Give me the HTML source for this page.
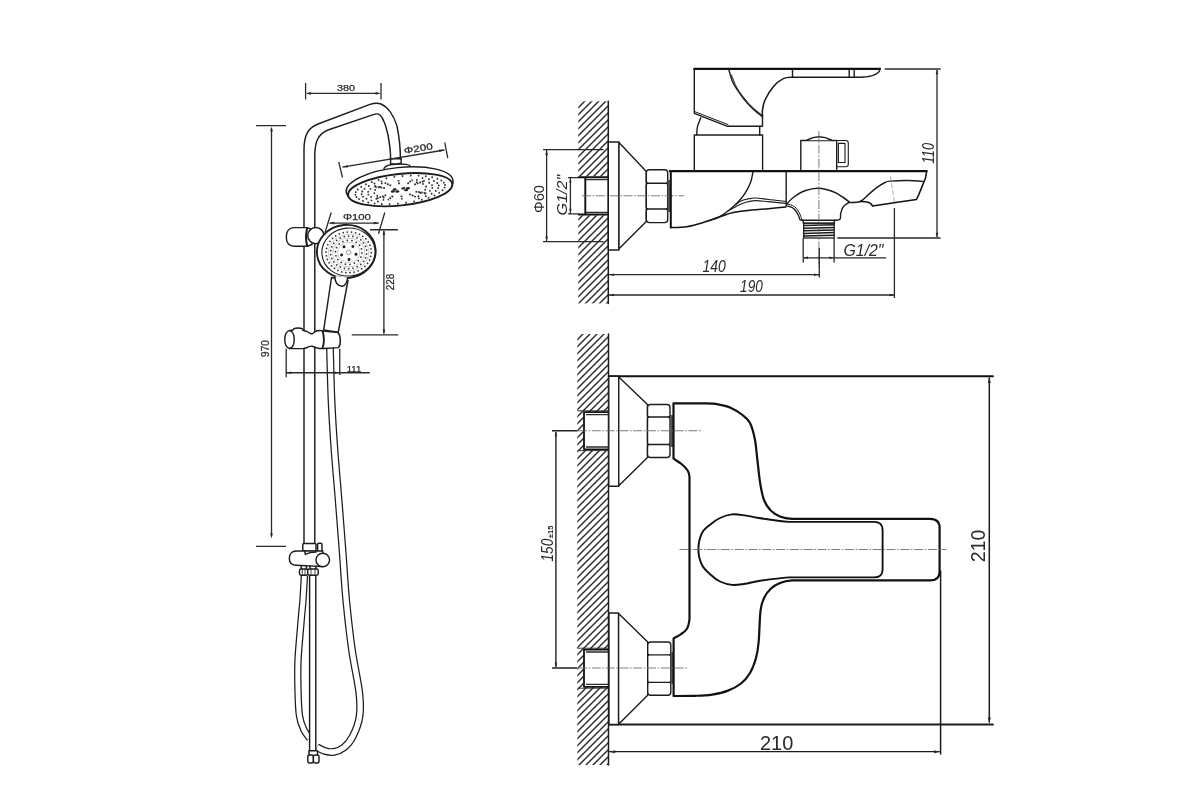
<!DOCTYPE html>
<html><head><meta charset="utf-8">
<style>
html,body{margin:0;padding:0;background:#fff;}
body{width:1200px;height:800px;overflow:hidden;font-family:"Liberation Sans",sans-serif;}
svg{display:block;will-change:transform;}
text{font-family:"Liberation Sans",sans-serif;fill:#2a2a2a;}
#shower text{stroke:#2a2a2a;stroke-width:0.25;}
#shower .k,#shower .kw{stroke-width:1.45;}
.k{stroke:#1c1c1c;fill:none;stroke-width:1.4;stroke-linecap:round;stroke-linejoin:round;}
.kw{stroke:#1c1c1c;fill:#fff;stroke-width:1.4;stroke-linejoin:round;}
.t{stroke:#2a2a2a;fill:none;stroke-width:1.3;}
.b{stroke:#111;fill:none;stroke-width:2;stroke-linejoin:round;stroke-linecap:round;}
.bw{stroke:#111;fill:#fff;stroke-width:2;stroke-linejoin:round;}
.c{stroke:#666;fill:none;stroke-width:0.85;stroke-dasharray:9 1.6 1.6 1.6;}
.ar{fill:#2a2a2a;stroke:none;}
</style></head><body>
<svg width="1200" height="800" viewBox="0 0 1200 800">
<defs>
<pattern id="h" width="7" height="7" patternUnits="userSpaceOnUse">
<path d="M-1,8 L8,-1 M-1,1 L1,-1 M6,8 L8,6" stroke="#262626" stroke-width="1.4" fill="none"/>
</pattern>
</defs>
<rect width="1200" height="800" fill="#fff"/>
<!--SHOWER-->
<g id="shower">
<!-- 380 dim -->
<path class="t" d="M305.6,83V99.6M381,83V99.6M307,93.4H379.5"/>
<path class="ar" d="M306,93.4l5,-1.3v2.6zM380.6,93.4l-5,-1.3v2.6z"/>
<text x="346" y="91.4" font-size="9.4" text-anchor="middle" textLength="18" lengthAdjust="spacingAndGlyphs">380</text>
<!-- 970 dim -->
<path class="t" d="M256,125.6H286M256,546.4H286M271.5,128V536"/>
<path class="ar" d="M271.5,126.5l-1.3,5h2.6zM271.5,538.5l-1.3,-5h2.6z"/>
<text transform="translate(269,348.6) rotate(-90)" font-size="10.2" text-anchor="middle" textLength="16.6" lengthAdjust="spacingAndGlyphs">970</text>
<!-- hose big (from handle down, loop) -->
<path d="M330.0,348.0C330.2,356.7 330.8,383.0 331.5,400.0C332.2,417.0 333.3,433.3 334.5,450.0C335.7,466.7 337.3,483.3 338.6,500.0C339.9,516.7 341.2,533.3 342.5,550.0C343.8,566.7 344.6,583.3 346.2,600.0C347.8,616.7 349.8,634.7 352.0,650.0C354.2,665.3 357.9,681.0 359.2,692.0C360.5,703.0 360.6,708.7 359.6,716.0C358.6,723.3 355.6,730.8 353.0,736.0C350.4,741.2 347.2,744.9 344.0,747.5C340.8,750.1 337.2,751.2 334.0,751.8C330.8,752.4 327.8,751.8 325.0,751.0C322.2,750.2 318.3,747.9 317.0,747.3" fill="none" stroke="#1c1c1c" stroke-width="7.8"/>
<path d="M330.0,348.0C330.2,356.7 330.8,383.0 331.5,400.0C332.2,417.0 333.3,433.3 334.5,450.0C335.7,466.7 337.3,483.3 338.6,500.0C339.9,516.7 341.2,533.3 342.5,550.0C343.8,566.7 344.6,583.3 346.2,600.0C347.8,616.7 349.8,634.7 352.0,650.0C354.2,665.3 357.9,681.0 359.2,692.0C360.5,703.0 360.6,708.7 359.6,716.0C358.6,723.3 355.6,730.8 353.0,736.0C350.4,741.2 347.2,744.9 344.0,747.5C340.8,750.1 337.2,751.2 334.0,751.8C330.8,752.4 327.8,751.8 325.0,751.0C322.2,750.2 318.3,747.9 317.0,747.3" fill="none" stroke="#fff" stroke-width="5.3"/>
<!-- left hose from diverter -->
<path d="M304.4,575.8C304.2,579.8 303.5,592.6 303.0,600.0C302.5,607.4 302.0,609.9 301.2,620.0C300.4,630.1 298.5,649.0 298.0,660.7C297.5,672.4 297.8,680.8 298.0,690.0C298.2,699.2 298.5,709.3 299.5,716.0C300.5,722.7 302.2,726.2 304.0,730.0C305.8,733.8 309.0,737.1 310.0,738.5" fill="none" stroke="#1c1c1c" stroke-width="7.4"/>
<path d="M304.4,575.8C304.2,579.8 303.5,592.6 303.0,600.0C302.5,607.4 302.0,609.9 301.2,620.0C300.4,630.1 298.5,649.0 298.0,660.7C297.5,672.4 297.8,680.8 298.0,690.0C298.2,699.2 298.5,709.3 299.5,716.0C300.5,722.7 302.2,726.2 304.0,730.0C305.8,733.8 309.0,737.1 310.0,738.5" fill="none" stroke="#fff" stroke-width="4.9"/>
<!-- rigid tube -->
<rect x="309.6" y="575" width="6.2" height="175.7" fill="#fff" stroke="none"/>
<path class="k" d="M309.6,575.75V750.7M315.8,575.75V750.7M309.6,750.7H315.8"/>
<rect class="kw" x="307.8" y="755" width="5.6" height="8" rx="1.8"/>
<rect class="kw" x="313.4" y="755" width="5.6" height="8" rx="1.8"/>
<path class="k" d="M309,750.7V755M317.5,750.7V755"/>
<!-- main pipe -->
<path class="k" d="M304,543.5 L304,150 C304,135 308,128 318,124 L370,104.4 C374,103 378,102.8 381,104 C388,107 394,116 397,126 C399,136 400.4,146 400.4,158.75"/>
<path class="k" d="M314.8,543.5 L314.8,154 C315.1,142 318,134 328,130 L374,114.4 C376,113.6 378,113.6 380,115 C384,119 386,126 388,135 C390,146 390.6,150 390.6,158.75"/>
<!-- head neck -->
<path class="k" d="M390.3,158.75H401.2M390.6,158.75V163.8M401.2,158.75V163M390.6,163.8Q396,165 401.2,163"/>
<path class="kw" d="M383.75,169 Q385,165.5 392,164.5 Q400,163.5 406,164.4 Q410,165 410.3,166.4"/>
<!-- head -->
<g transform="rotate(-6 399.6 186)">
<ellipse class="kw" cx="399.6" cy="186.3" rx="53.7" ry="18.8"/>
<ellipse class="kw" cx="399.8" cy="189.7" rx="52.4" ry="15.8" style="stroke-width:1.9"/>
<g id="hh"><ellipse cx="394.3" cy="189.0" rx="2.1" ry="1.2" fill="#222"/><ellipse cx="396.8" cy="191.2" rx="2.1" ry="1.2" fill="#222"/><ellipse cx="403.0" cy="188.7" rx="2.1" ry="1.2" fill="#222"/><ellipse cx="405.6" cy="190.8" rx="2.1" ry="1.2" fill="#222"/><ellipse cx="392.3" cy="190.8" rx="2.1" ry="1.2" fill="#222"/><ellipse cx="407.6" cy="189.1" rx="2.1" ry="1.2" fill="#222"/><path d="M414.8,193.3L425.7,195.8M408.4,195.0L414.6,198.6M400.3,195.6L400.6,199.7M392.0,195.1L386.4,198.8M385.3,193.6L374.9,196.2M384.8,186.5L373.9,184.0M391.2,184.8L385.0,181.2M399.3,184.2L399.0,180.1M407.6,184.7L413.2,181.0M414.3,186.2L424.7,183.6" stroke="#333" stroke-width="1.8" stroke-dasharray="1.8 0.9" fill="none"/><path d="M382.6,195.9h0M376.4,193.4h0M373.7,190.5h0M374.9,187.4h0M380.0,184.7h0M417.0,183.9h0M423.2,186.4h0M425.9,189.3h0M424.7,192.4h0M419.6,195.1h0M382.1,198.1h0M375.2,196.3h0M370.2,193.9h0M367.6,191.3h0M367.7,188.5h0M370.3,185.8h0M375.3,183.5h0M382.3,181.6h0M417.5,181.7h0M424.4,183.5h0M429.4,185.9h0M432.0,188.5h0M431.9,191.3h0M429.3,194.0h0M424.3,196.3h0M417.3,198.2h0M376.4,199.2h0M370.1,197.4h0M365.3,195.2h0M362.2,192.8h0M361.0,190.2h0M361.8,187.6h0M364.5,185.1h0M368.9,182.8h0M374.9,180.9h0M382.1,179.5h0M423.2,180.6h0M429.5,182.4h0M434.3,184.6h0M437.4,187.0h0M438.6,189.6h0M437.8,192.2h0M435.1,194.7h0M430.7,197.0h0M424.7,198.9h0M417.5,200.3h0M361.7,197.1h0M357.9,194.9h0M355.6,192.5h0M354.7,190.0h0M355.4,187.5h0M357.7,185.1h0M361.3,182.8h0M366.3,180.8h0M372.4,179.1h0M379.4,177.8h0M387.2,176.9h0M395.3,176.4h0M403.6,176.4h0M411.8,176.8h0M419.6,177.7h0M426.7,179.0h0M432.9,180.7h0M437.9,182.7h0M441.7,184.9h0M444.0,187.3h0M444.9,189.8h0M444.2,192.3h0M441.9,194.7h0M438.3,197.0h0M433.3,199.0h0M427.2,200.7h0M420.2,202.0h0M412.4,202.9h0M404.3,203.4h0M396.0,203.4h0M387.8,203.0h0M380.0,202.1h0M372.9,200.8h0M366.7,199.1h0" stroke="#333" stroke-width="1.9" stroke-linecap="round" fill="none"/></g>
</g>
<!-- phi200 -->
<path class="t" d="M338.75,161.9L342.5,177.5M444.75,142.5L447.75,158.1M342.5,167.1L444.4,150"/>
<path class="ar" d="M342.5,167.1l5.1,-2.1l0.4,2.6zM444.4,150l-5.1,2.1l-0.4,-2.6z"/>
<text transform="translate(418.9,151.6) rotate(-9.5)" font-size="9.2" text-anchor="middle" textLength="29" lengthAdjust="spacingAndGlyphs">Φ200</text>
<!-- slider bracket -->
<path class="kw" d="M307,227.6 H294 C289,227.6 286.3,231.5 286.3,237 C286.3,242.5 289,246.3 294,246.3 H307 L312,244.5 L312,229.4 Z"/>
<path class="k" d="M307.2,228 Q304.8,237 307.2,246" style="stroke-width:2"/>
<circle class="kw" cx="315.8" cy="235.6" r="8.1"/>
<!-- hand shower handle -->
<path class="kw" d="M331.5,277.5 L323.7,330 L338.25,332.25 L348,280.5 Z"/>
<!-- hand head -->
<g transform="rotate(-5 346.5 251.5)">
<ellipse class="kw" cx="346.3" cy="251.5" rx="29.4" ry="26.6" style="stroke-width:1.8"/>
<ellipse class="kw" cx="348.4" cy="252.2" rx="26.6" ry="24" style="stroke-width:1.1"/>
<g id="hs"><circle cx="348.6" cy="252.6" r="2.3" fill="#fff" stroke="#888" stroke-width="0.8"/><circle cx="353.3" cy="247.0" r="1.5" fill="#222"/><circle cx="355.7" cy="255.1" r="1.5" fill="#222"/><circle cx="348.3" cy="259.8" r="1.5" fill="#222"/><circle cx="341.3" cy="254.5" r="1.5" fill="#222"/><circle cx="344.4" cy="246.6" r="1.5" fill="#222"/><ellipse cx="348.6" cy="252.6" rx="11.2" ry="10.1" fill="none" stroke="#aaa" stroke-width="0.6"/><ellipse cx="348.6" cy="252.6" rx="16.0" ry="14.4" fill="none" stroke="#aaa" stroke-width="0.6"/><ellipse cx="348.6" cy="252.6" rx="20.2" ry="18.2" fill="none" stroke="#aaa" stroke-width="0.6"/><path d="M360.3,258.4h0M357.4,261.6h0M353.4,263.8h0M348.9,264.6h0M344.3,264.0h0M340.3,262.0h0M337.2,258.8h0M335.6,255.0h0M335.5,250.8h0M336.9,246.8h0M339.8,243.6h0M343.8,241.4h0M348.3,240.6h0M352.9,241.2h0M356.9,243.2h0M360.0,246.4h0M361.6,250.2h0M361.7,254.4h0M362.7,262.9h0M359.5,265.6h0M355.8,267.6h0M351.6,268.7h0M347.2,268.9h0M343.0,268.1h0M339.0,266.4h0M335.6,264.0h0M333.0,260.8h0M331.3,257.2h0M330.5,253.3h0M330.9,249.4h0M332.2,245.7h0M334.5,242.3h0M337.7,239.6h0M341.4,237.6h0M345.6,236.5h0M350.0,236.3h0M354.2,237.1h0M358.2,238.8h0M361.6,241.2h0M364.2,244.4h0M365.9,248.0h0M366.7,251.9h0M366.3,255.8h0M365.0,259.5h0M363.5,267.9h0M360.1,270.1h0M356.4,271.8h0M352.3,272.7h0M348.2,273.0h0M344.0,272.6h0M340.0,271.5h0M336.3,269.7h0M333.1,267.4h0M330.3,264.6h0M328.2,261.4h0M326.7,257.8h0M326.1,254.1h0M326.1,250.3h0M327.0,246.7h0M328.5,243.2h0M330.8,240.0h0M333.7,237.3h0M337.1,235.1h0M340.8,233.4h0M344.9,232.5h0M349.0,232.2h0M353.2,232.6h0M357.2,233.7h0M360.9,235.5h0M364.1,237.8h0M366.9,240.6h0M369.0,243.8h0M370.5,247.4h0M371.1,251.1h0M371.1,254.9h0M370.2,258.5h0M368.7,262.0h0M366.4,265.2h0" stroke="#333" stroke-width="1.8" stroke-linecap="round" fill="none"/></g>
</g>
<path class="kw" d="M334.8,276 C335,282 337.5,286 342,286.3 C345.5,286 347,283 347.6,277.5" style="fill:#fff"/>
<!-- phi100 -->
<path class="t" d="M331.25,212.5L325,232.5M384.75,212.5L378.5,233.75M329.4,223.1H378.75"/>
<path class="ar" d="M329.4,223.1l5,-1.3v2.6zM378.75,223.1l-5,-1.3v2.6z"/>
<text x="356.9" y="220.2" font-size="9.2" text-anchor="middle" textLength="28" lengthAdjust="spacingAndGlyphs">Φ100</text>
<!-- 228 -->
<path class="t" d="M370,229.75H398M351.75,334.8H398.25M383.9,231V333.5"/>
<path class="ar" d="M383.9,230l-1.3,5h2.6zM383.9,334.5l-1.3,-5h2.6z"/>
<text transform="translate(394.4,282) rotate(-90)" font-size="10.4" text-anchor="middle" textLength="16.4" lengthAdjust="spacingAndGlyphs">228</text>
<!-- lower holder -->
<path class="kw" d="M289.5,330.6C290.1,330.5 292.2,330.3 293.0,330.0C293.8,329.7 293.2,328.9 294.0,328.6C294.8,328.3 296.7,328.0 298.0,328.0C299.3,328.0 301.2,328.2 302.0,328.6C302.8,329.0 302.2,329.9 303.0,330.4C303.8,330.9 305.8,331.1 307.0,331.6C308.2,332.1 309.1,332.8 310.0,333.2C310.9,333.6 311.6,334.0 312.4,333.8C313.2,333.6 313.8,332.5 314.6,332.0C315.4,331.5 316.1,331.1 317.0,330.8C317.9,330.5 319.0,330.4 320.0,330.4C321.0,330.4 322.5,330.9 323.0,331.0L338,332.6C341,336 341,344.5 338.5,347.6L323.4,348.5C322.8,348.5 321.2,348.6 320.0,348.5C318.8,348.4 317.3,348.0 316.0,347.6C314.7,347.2 313.2,346.4 312.0,346.2C310.8,346.0 309.9,346.3 309.0,346.6C308.1,346.9 307.5,347.5 306.5,347.8C305.5,348.1 304.8,348.5 303.0,348.6C301.2,348.7 298.2,348.6 296.0,348.6C293.8,348.6 290.6,348.5 289.5,348.5C283.2,347 283.2,332 289.5,330.6Z"/>
<path class="k" d="M289.5,330.6C295.8,332 295.8,347 289.5,348.5"/>
<path class="k" d="M322.6,331 Q325.2,339.5 322.6,348.2" style="stroke-width:1.9"/>
<!-- 111 -->
<path class="t" d="M286.2,348.75V377.25M339.75,348.75V375M286.2,372.75H369.75"/>
<path class="ar" d="M286.4,372.75l5,-1.3v2.6zM339.6,372.75l-5,-1.3v2.6z"/>
<text x="354" y="371.6" font-size="9.4" text-anchor="middle" textLength="14.4" lengthAdjust="spacingAndGlyphs">111</text>
<!-- diverter -->
<rect class="kw" x="302.8" y="543.5" width="13.2" height="7.6" rx="1"/>
<rect class="kw" x="317.6" y="543.2" width="4.4" height="9.4" rx="1.2"/>
<path class="kw" d="M296.5,551 H322.75 V566.6 L296.5,565.2 C291.5,565.2 289.3,562 289.3,558.2 C289.3,554.4 291.5,551 296.5,551 Z"/>
<path class="k" d="M304.6,551 L305.4,554.4 L310,552.6 L316,552"/>
<circle class="kw" cx="322.75" cy="560" r="6.8"/>
<path class="k" d="M301.2,565.6V569M306.4,565.8V569M310,566V569M316,566.3V569"/>
<rect class="kw" x="299.5" y="569" width="8.25" height="6.2" rx="1.6"/>
<rect class="kw" x="307.75" y="569" width="10.5" height="6.2" rx="1.6"/>
<path class="k" d="M302.3,569V575.2M305,569V575.2M311,569V575.2M315,569V575.2" style="stroke-width:0.8"/>
</g>
<!--SIDE-->
<g id="side">
<!-- wall -->
<rect x="578.3" y="101.3" width="30" height="202.1" fill="url(#h)"/>
<rect x="577" y="176.4" width="31.3" height="39" fill="#fff"/>
<path class="t" d="M568,177.6H579M568,213.8H579M570.4,178V213.4"/>
<path class="t" d="M543,149.7H603.6M543,241.6H603.6M546.6,150V241.4"/>
<path class="ar" d="M546.6,150l-1.3,5h2.6zM546.6,241.4l-1.3,-5h2.6zM570.4,178.2l-1.2,4.4h2.4zM570.4,213.2l-1.2,-4.4h2.4z"/>
<path class="k" d="M608.3,101.3V303.4" style="stroke-width:1.5"/>
<path class="b" d="M578.8,177.3H608.3M578.8,214.5H608.3M585.3,178V214" style="stroke-width:1.9"/>
<path class="t" d="M586,179.6H608M586,212.3H608"/>
<!-- flange -->
<path class="kw" d="M608.3,142H619V250H608.3Z"/>
<path class="kw" d="M619,142.6L646.3,171.6V221.4L619,248.7Z"/>
<!-- nut -->
<path class="kw" d="M649.3,169.7H664.7Q667.7,169.7 667.7,172.7V180.5Q667.7,183.2 666.5,183.2Q667.7,183.4 667.7,185.5V206.7Q667.7,208.8 666.5,209Q667.7,209.2 667.7,211.7V219.6Q667.7,222.6 664.7,222.6H649.3Q646.3,222.6 646.3,219.6V211.7Q646.3,209.2 647.5,209Q646.3,208.8 646.3,206.7V185.5Q646.3,183.4 647.5,183.2Q646.3,183.2 646.3,180.5V172.7Q646.3,169.7 649.3,169.7Z"/>
<path class="k" d="M647,183.2H667M647,209H667" style="stroke-width:1.4"/>
<rect x="667.7" y="180" width="3" height="32" fill="#555"/>
<path class="c" d="M582,195.8H684"/>
<!-- cartridge + handle -->
<path class="kw" d="M694.3,135H762.6V171H694.3Z"/>
<path class="k" d="M696.7,134.6C696.8,133.3 696.8,129.5 697.5,126.7C698.2,123.9 700.2,119.3 700.8,117.8M759.7,126.3V135"/>
<path class="kw" d="M694.3,68.8V113.3L727.5,126.3H762.5V116.7" style="fill:none"/>
<path class="k" d="M694.6,111.6L728,124.6" style="stroke-width:1"/>
<path class="k" d="M728.7,69.2C729.5,71.5 730.9,78.5 733.3,83.3C735.7,88.1 740.2,94.2 743.3,98.3C746.4,102.4 748.8,104.9 752.0,108.0C755.2,111.1 760.8,115.2 762.5,116.7"/>
<path class="k" d="M731.5,75.0C732.4,77.2 734.6,83.8 737.0,88.0C739.4,92.2 743.2,96.9 746.0,100.3C748.8,103.7 751.3,106.1 754.0,108.6C756.7,111.1 760.9,114.3 762.3,115.4" style="stroke-width:1"/>
<path class="k" d="M792.5,77.2C791.0,77.4 786.5,77.0 783.3,78.6C780.1,80.2 776.3,83.1 773.3,86.7C770.2,90.3 766.8,96.1 765.0,100.0C763.2,103.9 762.9,107.2 762.5,110.0C762.1,112.8 762.5,115.6 762.5,116.7" style="stroke-width:1.6"/>
<path class="k" d="M792.5,77.2H861.7C863.4,77.0 868.9,76.6 871.7,75.8C874.5,75.0 876.9,73.7 878.3,72.5C879.7,71.3 879.7,69.5 880.0,68.9"/>
<path class="k" d="M792.5,69V77.2M849.2,69V77.2M854.2,69V77.2"/>
<path class="b" d="M694.2,68.8H880" style="stroke-width:2.2"/>
<!-- diverter knob -->
<path class="kw" d="M800.8,140.5H836.7V171H800.8Z"/>
<path class="kw" d="M806.7,140.3Q819,133.2 831.7,140.3" style="stroke-width:1.6"/>
<path class="k" d="M836.7,140.5H845.8Q848.3,140.5 848.3,143.3V164.2Q848.3,166.7 845.8,166.7H836.7M838.4,143.4H845V162.5H838.4Z" style="stroke-width:1.1"/>
<!-- body -->
<path class="b" d="M670.8,171.3V227.5" />
<path class="b" d="M670.8,227.5C673.4,227.4 681.3,227.5 686.7,226.7C692.1,225.9 697.8,224.2 703.3,222.5C708.8,220.8 715.0,218.4 720.0,216.7C725.0,215.0 728.0,213.6 733.3,212.5C738.6,211.4 745.9,210.6 751.7,210.0C757.5,209.4 762.6,209.2 768.3,208.7C774.0,208.2 782.9,207.3 785.8,207.0" style="stroke-width:1.6"/>
<path class="k" d="M753.0,171.7C752.6,173.4 752.1,178.1 750.8,181.7C749.5,185.3 747.1,190.0 745.0,193.3C742.9,196.6 741.1,198.8 738.3,201.7C735.5,204.6 731.6,208.2 728.3,210.8C725.0,213.4 721.7,215.8 718.3,217.5C714.9,219.2 709.7,220.4 708.0,221.0"/>
<path class="k" d="M736.0,204.5C736.8,203.9 739.2,201.9 741.0,201.0C742.8,200.1 744.4,199.7 746.7,199.2C749.0,198.7 751.4,197.9 755.0,198.0C758.6,198.1 763.2,198.9 768.3,199.5C773.4,200.1 782.9,201.0 785.8,201.3" style="stroke-width:1.1"/>
<path class="k" d="M728.0,211.0C729.7,210.1 735.0,207.0 738.0,205.5C741.0,204.0 743.2,203.0 746.0,202.2C748.8,201.4 751.3,200.7 755.0,200.6C758.7,200.5 762.9,201.1 768.0,201.6C773.1,202.1 782.8,203.1 785.8,203.4" style="stroke-width:1.1"/>
<path class="k" d="M786.2,171.3V205.8"/>
<path class="k" d="M786.7,204.2C787.8,203.1 790.2,199.7 793.3,197.5C796.3,195.3 800.8,192.3 805.0,190.8C809.2,189.3 813.6,188.2 818.3,188.3C823.0,188.5 829.1,190.2 833.3,191.7C837.5,193.2 840.6,195.8 843.3,197.5C845.9,199.2 848.2,201.2 849.2,202.0" style="stroke-width:1.5"/>
<path class="k" d="M849.2,202.3C848.2,203.0 844.7,204.9 843.3,206.7C841.9,208.5 841.3,211.2 840.8,213.3C840.2,215.4 841.0,218.0 840.0,219.2C839.0,220.4 835.8,220.1 835.0,220.3"/>
<path class="k" d="M786.7,205.8C787.8,206.2 791.4,206.8 793.3,208.3C795.2,209.8 797.2,213.1 798.3,215.0C799.4,216.9 799.2,218.8 800.0,219.7C800.8,220.6 802.8,220.2 803.3,220.3"/>
<path class="k" d="M786.7,203.8C788.0,204.3 792.3,204.9 794.5,206.6C796.7,208.3 798.7,211.7 799.9,214.0C801.1,216.3 801.5,219.2 801.8,220.3" style="stroke-width:1"/>
<path class="k" d="M802.5,220.3H835M803.3,220.3V223.3H834.4V220.3"/>
<rect x="803.7" y="223.3" width="30.5" height="14.7" fill="#fff" stroke="#1c1c1c" stroke-width="1.3"/>
<path d="M803.7,225.6L834.2,224.8M803.7,228.2L834.2,227.4M803.7,230.8L834.2,230.0M803.7,233.4L834.2,232.6M803.7,236.0L834.2,235.2" stroke="#1a1a1a" stroke-width="1.5" fill="none"/>
<path class="k" d="M849.0,202.5C850.9,202.3 857.0,202.8 860.2,201.5C863.4,200.2 865.5,197.1 868.1,194.9C870.7,192.7 873.2,190.2 876.0,188.1C878.8,186.0 882.6,183.7 885.0,182.5C887.4,181.3 886.9,181.4 890.6,181.1C894.4,180.8 902.1,180.4 907.5,180.5C912.9,180.6 920.6,181.2 923.2,181.4"/>
<path class="b" d="M926.6,171.6L925.5,178L923.2,183.6L918.7,194.9L916.5,199.4L894,202.7L872.6,206.1Q871.6,203.6 869.4,202.7Q866,201.5 860.2,201.6" style="stroke-width:1.5"/>
<path d="M890.4,176.3L894.6,203.3" stroke="#999" stroke-width="0.8" stroke-dasharray="5 2" fill="none"/>
<path class="b" d="M670,171.2H926.7" style="stroke-width:2.3"/>
<path class="c" d="M818.9,131V268"/>
<!-- dims -->
<path class="t" d="M884.7,69H940.6M837.3,238H940.6M937,70V237"/>
<path class="ar" d="M937,69.2l-1.3,5h2.6zM937,237.8l-1.3,-5h2.6z"/>
<path class="t" d="M803.2,238V262.4M834.1,238V262.4M803.2,257.8H886.2"/>
<path class="ar" d="M803.4,257.8l4.6,-1.2v2.4zM833.9,257.8l-4.6,-1.2v2.4z"/>
<path class="t" d="M609,274.7H819M609,295H894.4M894.4,208V298M819.3,248V277.5"/>
<path class="ar" d="M609,274.7l5,-1.3v2.6zM819,274.7l-5,-1.3v2.6zM609,295l5,-1.3v2.6zM894.6,295l-5,-1.3v2.6z"/>
<text x="714.2" y="271.8" font-size="16.3" font-style="italic" text-anchor="middle" textLength="23.4" lengthAdjust="spacingAndGlyphs">140</text>
<text x="751.4" y="291.8" font-size="16.3" font-style="italic" text-anchor="middle" textLength="22.6" lengthAdjust="spacingAndGlyphs">190</text>
<text x="863.5" y="255.6" font-size="17" font-style="italic" text-anchor="middle" textLength="40" lengthAdjust="spacingAndGlyphs">G1/2"</text>
<text transform="translate(934.2,153.2) rotate(-90)" font-size="16.3" font-style="italic" text-anchor="middle" textLength="20.4" lengthAdjust="spacingAndGlyphs">110</text>
<text transform="translate(544.3,199) rotate(-90)" font-size="14.2" text-anchor="middle" textLength="28" lengthAdjust="spacingAndGlyphs">Φ60</text>
<text transform="translate(567,195.2) rotate(-90)" font-size="14.6" font-style="italic" text-anchor="middle" textLength="40.7" lengthAdjust="spacingAndGlyphs">G1/2"</text>
</g>
<!--FRONT-->
<g id="front">
<rect x="577.3" y="334" width="31.5" height="431" fill="url(#h)"/>
<rect x="583.7" y="412" width="25" height="37.5" fill="#fff"/>
<rect x="583.7" y="649.4" width="25" height="37.6" fill="#fff"/>
<path class="k" d="M608.5,334V765" style="stroke-width:1.5"/>
<path class="b" d="M608.8,412.2H584V449.3H608.8M608.8,649.6H584V686.8H608.8" style="stroke-width:1.8"/>
<path class="t" d="M586,414.6H608M586,447H608M586,652H608M586,684.4H608"/>
<path class="t" d="M577.5,410.8H608.8M577.5,450.6H608.8M577.5,648.2H608.8M577.5,688.2H608.8" style="stroke:#333;stroke-width:1"/>
<!-- frame lines -->
<path class="b" d="M608.8,376.25H993" style="stroke-width:1.8"/>
<path class="k" d="M609,724.5H993" style="stroke-width:1.8"/>
<path class="k" d="M989.3,378V722" style="stroke-width:1.5"/>
<path class="ar" d="M989.3,377l-1.5,6h3zM989.3,723.6l-1.5,-6h3z"/>
<path class="k" d="M940.6,571V754" style="stroke-width:1.5"/><path class="k" d="M609,751.7H939.5" style="stroke-width:1.2"/>
<path class="ar" d="M609.2,751.7l6,-1.5v3zM940,751.7l-6,-1.5v3z"/>
<!-- flanges -->
<path class="kw" d="M608.8,376.25H618.75V486.25H608.8Z"/>
<path class="kw" d="M618.75,377L647.5,404.5V457.5L618.75,485.75Z"/>
<path class="kw" d="M609,613H618.6V724.5H609Z"/>
<path class="kw" d="M618.6,613.6L647.7,642V695.3L618.6,724.2Z"/>
<path class="kw" d="M650.5,404.5H667Q670,404.5 670,407.5V414.5Q670,417 668.8,417Q670,417.2 670,419.3V442.2Q670,444.3 668.8,444.5Q670,444.5 670,447.0V454.5Q670,457.5 667,457.5H650.5Q647.5,457.5 647.5,454.5V447.0Q647.5,444.5 648.7,444.5Q647.5,444.3 647.5,442.2V419.3Q647.5,417.2 648.7,417Q647.5,417 647.5,414.5V407.5Q647.5,404.5 650.5,404.5Z"/><path class="k" style="stroke-width:1.4" d="M648.2,417H669.3M648.2,444.5H669.3"/>
<path class="kw" d="M650.7,642H667.8Q670.8,642 670.8,645V652.4Q670.8,654.9 669.5999999999999,654.9Q670.8,655.1 670.8,657.1999999999999V680.1Q670.8,682.1999999999999 669.5999999999999,682.4Q670.8,682.4 670.8,684.9V692.3Q670.8,695.3 667.8,695.3H650.7Q647.7,695.3 647.7,692.3V684.9Q647.7,682.4 648.9000000000001,682.4Q647.7,682.1999999999999 647.7,680.1V657.1999999999999Q647.7,655.1 648.9000000000001,654.9Q647.7,654.9 647.7,652.4V645Q647.7,642 650.7,642Z"/><path class="k" style="stroke-width:1.4" d="M648.4000000000001,654.9H670.0999999999999M648.4000000000001,682.4H670.0999999999999"/>
<rect x="670" y="415" width="3.4" height="32" fill="#555"/>
<rect x="670.6" y="652" width="3" height="32" fill="#555"/>
<!-- body -->
<path class="bw" d="M673.5,403.4H706C710.7,403.5 714.0,403.6 718.0,404.3C722.0,405.0 725.9,405.7 730.0,407.5C734.1,409.3 739.2,412.4 742.5,415.0C745.8,417.6 747.9,418.8 750.0,423.0C752.1,427.2 753.8,433.7 755.0,440.0C756.2,446.3 756.6,453.7 757.5,461.0C758.4,468.3 759.2,477.5 760.3,484.0C761.4,490.5 762.2,495.5 764.0,500.0C765.8,504.5 768.3,508.1 771.0,510.8C773.7,513.5 776.5,515.0 780.0,516.4C783.5,517.8 786.2,518.5 792.0,518.9H930Q939.6,518.9 939.6,528V571.4Q939.6,580.4 930,580.4H792C786.2,580.8 783.5,581.6 780.0,583.0C776.5,584.4 773.7,586.0 771.0,588.5C768.3,591.0 765.8,594.2 764.0,598.0C762.2,601.8 761.4,603.6 760.5,611.0C759.6,618.4 759.4,634.7 758.6,642.5C757.9,650.3 757.4,652.9 756.0,658.0C754.6,663.1 752.5,668.8 750.0,673.0C747.5,677.2 744.7,680.6 741.0,683.5C737.3,686.4 732.8,688.8 728.0,690.6C723.2,692.5 717.5,693.7 712.0,694.6C706.5,695.5 701.4,695.6 695.0,695.8L673.6,696V638.4C674.7,637.5 677.8,636.4 680.0,634.8C682.2,633.2 685.2,631.6 686.8,629.0C688.4,626.4 689.0,623.8 689.5,619.0V477C689.2,472.9 688.9,472.7 687.6,470.5C686.3,468.3 683.9,466.0 681.5,464.0C679.1,462.0 674.8,459.8 673.5,458.5V403.4Z" style="stroke-width:2.2"/>
<path class="bw" d="M789,577.4C780.5,578.0 766.3,579.9 759.0,581.0C751.7,582.1 749.5,583.1 745.0,583.8C740.5,584.4 736.2,585.3 732.0,584.9C727.8,584.5 723.5,583.1 720.0,581.5C716.5,579.9 714.0,577.8 711.0,575.0C708.0,572.2 704.1,569.2 702.0,565.0C699.9,560.8 698.4,554.8 698.4,549.5C698.4,544.2 699.9,537.2 702.0,533.0C704.1,528.8 708.0,526.5 711.0,524.0C714.0,521.5 716.5,519.6 720.0,518.0C723.5,516.4 727.8,514.8 732.0,514.4C736.2,514.0 740.5,514.8 745.0,515.4C749.5,516.0 751.7,516.9 759.0,518.0C766.3,519.1 780.5,521.2 789.0,521.9H874Q882.6,521.9 882.6,530V569.4Q882.6,577.4 874,577.4Z" style="stroke-width:1.9"/>
<!-- centrelines -->
<path class="c" d="M578,430.75H702.5M578,668H686.8M679.5,549.5H946.5"/>
<path class="t" d="M552,430.75H577M552,668H577M555.9,432V667" style="stroke:#222;stroke-width:1.4"/>
<path class="ar" d="M555.9,431.2l-1.3,5h2.6zM555.9,667.6l-1.3,-5h2.6z"/>
<text transform="translate(984.6,546) rotate(-90)" font-size="19.6" text-anchor="middle" textLength="32.6" lengthAdjust="spacingAndGlyphs">210</text>
<text x="776.6" y="750.3" font-size="19.6" text-anchor="middle" textLength="33.3" lengthAdjust="spacingAndGlyphs">210</text>
<text transform="translate(552.8,561.6) rotate(-90)" font-size="17" font-style="italic" textLength="23" lengthAdjust="spacingAndGlyphs">150</text>
<text transform="translate(552.8,538.2) rotate(-90)" font-size="7.4" font-weight="bold" textLength="12.6" lengthAdjust="spacingAndGlyphs">±15</text>
</g>
</svg>
</body></html>
